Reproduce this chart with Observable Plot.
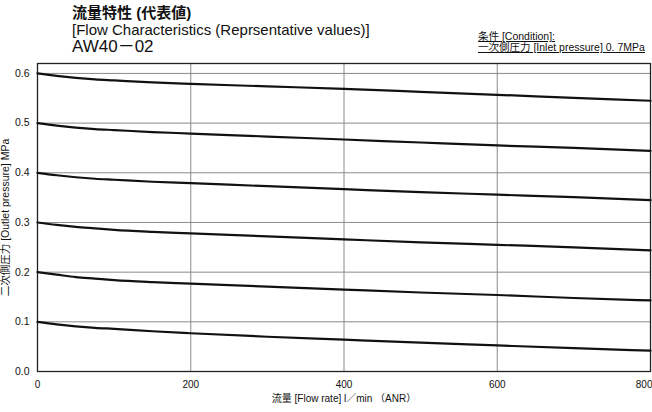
<!DOCTYPE html>
<html>
<head>
<meta charset="utf-8">
<script src="https://cdn.jsdelivr.net/npm/d3@7"></script>
<script src="https://cdn.jsdelivr.net/npm/@observablehq/plot@0.6"></script>
<style>
  html, body { margin: 0; padding: 0; background: #fff; }
  body { width: 652px; height: 412px; overflow: hidden; position: relative;
         font-family: "Liberation Sans", "Noto Sans CJK JP", sans-serif; color: #111; }
  #head { position: relative; height: 57px; }
  .t { position: absolute; white-space: nowrap; line-height: 1; }
  #t1 { left: 72px; top: 5px; font-size: 15px; font-weight: bold; }
  #t2 { left: 72px; top: 22px; font-size: 15px; }
  #t3 { left: 72px; top: 38px; font-size: 17px; }
  #c1 { left: 478px; top: 31px; font-size: 10.5px; text-decoration: underline; }
  #c2 { left: 478px; top: 42px; font-size: 10.5px; text-decoration: underline; }
  #chart svg { display: block; font-family: "Liberation Sans", "Noto Sans CJK JP", sans-serif; }
</style>
</head>
<body>
<div id="head">
  <div class="t" id="t1">流量特性 (代表値)</div>
  <div class="t" id="t2">[Flow Characteristics (Reprsentative values)]</div>
  <div class="t" id="t3">AW40－02</div>
  <div class="t" id="c1">条件 [Condition]:</div>
  <div class="t" id="c2">一次側圧力 [Inlet pressure] 0. 7MPa</div>
</div>
<div id="chart"></div>
<script>
// Flow rate (l/min ANR)
const flow = [0, 25, 50, 75, 100, 150, 200, 300, 400, 500, 600, 700, 800];
// Outlet pressure (MPa) for each set pressure
const p06 = [0.600, 0.595, 0.591, 0.588, 0.586, 0.582, 0.579, 0.574, 0.569, 0.563, 0.557, 0.551, 0.545];
const p05 = [0.500, 0.495, 0.491, 0.488, 0.486, 0.482, 0.479, 0.473, 0.467, 0.461, 0.455, 0.450, 0.444];
const p04 = [0.400, 0.395, 0.391, 0.388, 0.386, 0.382, 0.379, 0.373, 0.367, 0.361, 0.356, 0.351, 0.345];
const p03 = [0.300, 0.295, 0.291, 0.288, 0.285, 0.281, 0.278, 0.272, 0.266, 0.260, 0.255, 0.250, 0.244];
const p02 = [0.200, 0.195, 0.190, 0.187, 0.184, 0.180, 0.177, 0.171, 0.165, 0.159, 0.154, 0.148, 0.143];
const p01 = [0.100, 0.095, 0.091, 0.088, 0.086, 0.081, 0.077, 0.070, 0.064, 0.058, 0.0525, 0.047, 0.042];
const seriesNames = ["0.6", "0.5", "0.4", "0.3", "0.2", "0.1"];
const seriesValues = [p06, p05, p04, p03, p02, p01];

const xTicks = [0, 200, 400, 600];
const xLastTick = [800];
const yTicks = [0, 0.1, 0.2, 0.3, 0.4, 0.5, 0.6];
const xLabel = "流量 [Flow rate] l／min （ANR）";
const yLabel = "二次側圧力 [Outlet pressure] MPa";

const data = seriesNames.flatMap((s, i) => flow.map((f, j) => ({series: s, flow: f, p: seriesValues[i][j]})));

const chart = Plot.plot({
  width: 652,
  height: 355,
  marginTop: 6,
  marginBottom: 41,
  marginLeft: 37,
  marginRight: 2,
  style: {fontSize: "10px", color: "#111"},
  x: {domain: [0, 800]},
  y: {domain: [0, 0.62]},
  marks: [
    Plot.gridX([200, 400, 600], {stroke: "#8a8a8a", strokeOpacity: 1, strokeWidth: 1}),
    Plot.gridY([0.1, 0.2, 0.3, 0.4, 0.5, 0.6], {stroke: "#8a8a8a", strokeOpacity: 1, strokeWidth: 1}),
    Plot.axisX(xTicks, {tickSize: 0, tickPadding: 9, label: xLabel, labelAnchor: "center", labelOffset: 30, labelArrow: "none", fontSize: 10}),
    Plot.axisX(xLastTick, {tickSize: 0, tickPadding: 9, label: null, textAnchor: "end", dx: 2, fontSize: 10}),
    Plot.axisY(yTicks, {tickSize: 0, tickPadding: 8, tickFormat: d3.format(".1f"), label: yLabel, labelAnchor: "center", labelOffset: 36, labelArrow: "none", fontSize: 10.5}),
    Plot.frame({stroke: "#222", strokeWidth: 1.3}),
    Plot.lineY(data, {x: "flow", y: "p", z: "series", stroke: "#111", strokeWidth: 2.2, curve: "monotone-x"})
  ]
});
document.getElementById("chart").appendChild(chart);
</script>
</body>
</html>
